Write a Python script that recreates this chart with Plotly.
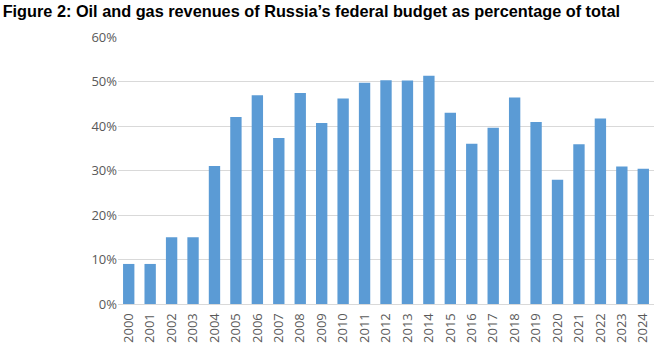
import plotly.graph_objects as go

years = [str(y) for y in range(2000, 2025)]
share = [9.0, 9.0, 15.0, 15.0, 31.0, 42.0, 46.9, 37.3, 47.4, 40.7, 46.2, 49.7, 50.3, 50.2,
         51.3, 43.0, 36.0, 39.6, 46.4, 40.9, 27.9, 35.9, 41.7, 30.9, 30.4]
share_frac = [v / 100 for v in share]
title_text = "Figure 2: Oil and gas revenues of Russia\u2019s federal budget as percentage of total"

fig = go.Figure(go.Bar(x=years, y=share_frac, marker=dict(color="#5B9BD5", line=dict(width=0)),
                       hoverinfo="x+y"))
fig.update_layout(
    width=665, height=353,
    margin=dict(l=118, r=11, t=37, b=49),
    paper_bgcolor="white", plot_bgcolor="white",
    bargap=0.47,
    showlegend=False,
    title=dict(text="<b>" + title_text + "</b>", x=0.004, xanchor="left", y=0.968, yanchor="middle",
               font=dict(family="Liberation Sans, Arial", size=16.3, color="black")),
    font=dict(family="Open Sans, Liberation Sans", color="#595959", size=12),
)
fig.update_yaxes(range=[0, 0.6], dtick=0.1, tickformat=".0%", showgrid=True, gridcolor="#D9D9D9",
                 gridwidth=1, zeroline=False, ticks="", showline=False,
                 tickfont=dict(size=13, color="#595959"))
fig.update_xaxes(tickangle=-90, showline=True, linecolor="#D9D9D9", ticks="",
                 ticklabelstandoff=3,
                 tickfont=dict(size=13, color="#595959"))
fig.write_html("out.html")
